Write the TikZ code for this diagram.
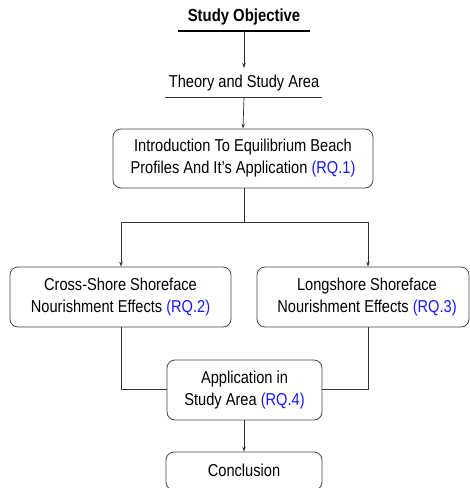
\documentclass[tikz,border=0pt]{standalone}
\usepackage{fontspec}
\setmainfont{Liberation Sans}[FakeStretch=0.85]
\usetikzlibrary{arrows.meta}
\definecolor{rqblue}{RGB}{25,25,245}
\definecolor{boxgray}{RGB}{70,70,70}
\begin{document}
\begin{tikzpicture}[x=1pt,y=-1pt,
  every node/.style={font=\fontsize{17.2}{22}\selectfont, inner sep=0pt},
  box/.style={draw=boxgray, line width=0.8pt, rounded corners=8pt, align=center},
  conn/.style={draw=black!80, line width=0.7pt},
  arr/.style={conn, -{Stealth[length=5pt,width=3.5pt]}}]
\useasboundingbox (0,0) rectangle (470,488);
\clip (0,0) rectangle (470,488);
% titles
\node[font=\fontsize{17.5}{22}\selectfont\bfseries] (obj) at (244,17) {Study Objective};
\coordinate (objL) at (178,31);
\coordinate (objR) at (310,31);
\coordinate (objC) at (244,31);
\draw[black, line width=1.6pt] (objL) -- (objR);
\node (theory) at (244,83) {Theory and Study Area};
\coordinate (thL) at (165,97);
\coordinate (thR) at (322,97);
\coordinate (thC) at (244,97);
\draw[conn] (thL) -- (thR);
% boxes
\node[box, minimum width=260pt, minimum height=59pt] (rq1) at (243,158.5)
  {Introduction To Equilibrium Beach\\Profiles And It\symbol{"27}s Application \textcolor{rqblue}{(RQ.1)}};
\node[box, minimum width=221pt, minimum height=60pt] (rq2) at (120.5,297)
  {Cross-Shore Shoreface\\Nourishment Effects \textcolor{rqblue}{(RQ.2)}};
\node[box, minimum width=212pt, minimum height=60pt] (rq3) at (363,297) {};
\node[align=center] (rq3t) at (367,297) {Longshore Shoreface\\Nourishment Effects \textcolor{rqblue}{(RQ.3)}};
\node[box, minimum width=155pt, minimum height=60pt] (rq4) at (244.5,390)
  {Application in\\Study Area \textcolor{rqblue}{(RQ.4)}};
\node[box, minimum width=156pt, minimum height=38pt] (concl) at (244,471) {};
\node (conclt) at (244,470) {Conclusion};
% connectors
\draw[arr] (objC) -- (244,68);
\draw[arr] (thC) -- (rq1.north);
\coordinate (split) at (244,222);
\coordinate (splitL) at (121,222);
\coordinate (splitR) at (368,222);
\draw[conn] (rq1.south -| split) -- (split);
\draw[conn] (splitL) -- (splitR);
\draw[arr] (splitL) -- (splitL |- rq2.north);
\draw[arr] (splitR) -- (splitR |- rq3.north);
\coordinate (joinL) at (121,389);
\coordinate (joinR) at (368,389);
\draw[conn] (splitL |- rq2.south) -- (joinL) -- (joinL -| rq4.west);
\draw[conn] (splitR |- rq3.south) -- (joinR) -- (joinR -| rq4.east);
\draw[arr] (rq4.south -| concl.north) -- (concl.north);
\end{tikzpicture}
\end{document}
